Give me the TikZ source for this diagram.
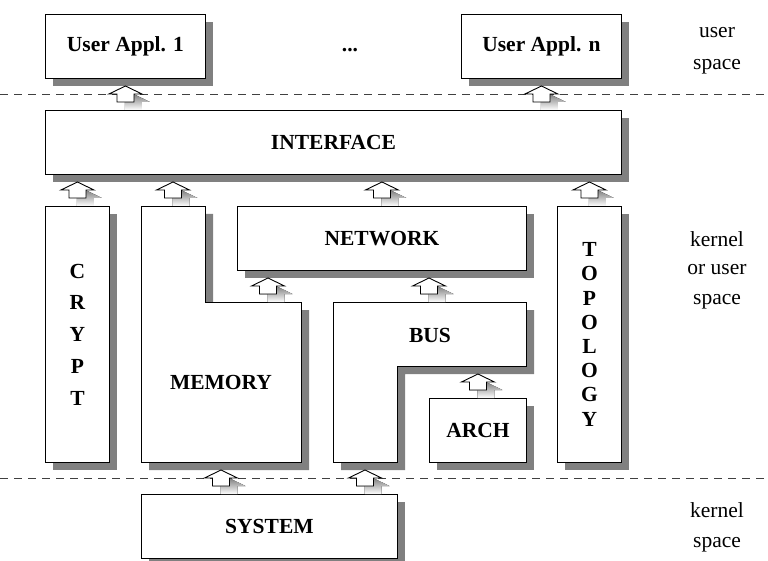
\documentclass[tikz,border=0pt]{standalone}
\usepackage{fontspec}
\setmainfont{Liberation Serif}
\usetikzlibrary{shadows}
\definecolor{shade}{gray}{0.5}
\tikzset{
  box/.style={draw=black, line width=0.9pt, fill=white, inner sep=0pt,
    general shadow={fill=shade, shadow xshift=8pt, shadow yshift=-8pt},
    font=\bfseries\fontsize{21.5}{24}\selectfont, align=center},
  poly/.style={draw=black, line width=0.9pt, fill=white},
  polyshadow/.style={fill=shade},
  lbl/.style={font=\bfseries\fontsize{21.5}{24}\selectfont, inner sep=0pt},
  side/.style={font=\fontsize{21.5}{30}\selectfont, inner sep=0pt, anchor=base},
  sepline/.style={dash pattern=on 8pt off 6pt, line width=0.8pt, draw=black!75},
  blockarrow/.pic={
    \fill[shade] (8,-16) -- (24.5,-8) -- (16.5,-8) -- (16.5,0) -- (-0.5,0) -- (-0.5,-8) -- (-8.5,-8) -- cycle;
    \draw[poly] (0,-24) -- (16.5,-16) -- (8.5,-16) -- (8.5,-8) -- (-8.5,-8) -- (-8.5,-16) -- (-16.5,-16) -- cycle;
  }
}
\begin{document}
\begin{tikzpicture}[x=1pt,y=-1pt]
\useasboundingbox (0,0) rectangle (768,561);
\fill[white] (0,0) rectangle (768,561);

% separators
\coordinate (s1l) at (0,94);  \coordinate (s1r) at (768,94);
\coordinate (s2l) at (0,478); \coordinate (s2r) at (768,478);
\draw[sepline] (s1l) -- (s1r);
\draw[sepline] (s2l) -- (s2r);

% rectangular boxes
\node[box, anchor=north west, minimum width=160pt, minimum height=64pt] (app1) at (45,14) {User Appl. 1};
\node[box, anchor=north west, minimum width=160pt, minimum height=64pt] (appn) at (461,14) {User Appl. n};
\node[lbl, anchor=base] (dots) at (350,52) {...};
\node[box, anchor=north west, minimum width=576pt, minimum height=64pt] (iface) at (45,110) {INTERFACE};
\node[box, anchor=north west, minimum width=64pt, minimum height=256pt,
      font=\bfseries\fontsize{21.5}{31.75}\selectfont] (crypt) at (45,206) {C\\R\\Y\\P\\T};
\node[box, anchor=north west, minimum width=289pt, minimum height=64pt] (network) at (237,206) {NETWORK};
\node[box, anchor=north west, minimum width=64pt, minimum height=256pt,
      font=\bfseries\fontsize{21.5}{24.2}\selectfont] (topo) at (557,206) {T\\O\\P\\O\\L\\O\\G\\Y};

% MEMORY (L-shape)
\fill[polyshadow, shift={(8,8)}] (141,206) -- (205,206) -- (205,302) -- (301,302) -- (301,462) -- (141,462) -- cycle;
\draw[poly] (141,206) -- (205,206) -- (205,302) -- (301,302) -- (301,462) -- (141,462) -- cycle;
\node[lbl] (memory) at (221,382) {MEMORY};
\coordinate (memtop) at (173,206);
\coordinate (memstep) at (268,302);
\coordinate (membot) at (221,462);

% BUS (L-shape)
\fill[polyshadow, shift={(8,8)}] (333,302) -- (526,302) -- (526,366) -- (397,366) -- (397,462) -- (333,462) -- cycle;
\draw[poly] (333,302) -- (526,302) -- (526,366) -- (397,366) -- (397,462) -- (333,462) -- cycle;
\node[lbl] (bus) at (430,335) {BUS};
\coordinate (bustop) at (429,302);
\coordinate (busstep) at (477,366);
\coordinate (busbot) at (365,462);

\node[box, anchor=north west, minimum width=97pt, minimum height=64pt] (arch) at (429,398) {ARCH};
\node[box, anchor=north west, minimum width=256pt, minimum height=64pt] (system) at (141,494) {SYSTEM};

% block arrows (placed on top edge of the lower box)
\pic at (app1.south |- iface.north) {blockarrow};
\pic at (appn.south |- iface.north) {blockarrow};
\pic at (crypt.north) {blockarrow};
\pic at (memtop) {blockarrow};
\pic at (network.north) {blockarrow};
\pic at (topo.north) {blockarrow};
\pic at (memstep) {blockarrow};
\pic at (bustop) {blockarrow};
\pic at (arch.north) {blockarrow};
\pic at (membot |- system.north) {blockarrow};
\pic at (busbot |- system.north) {blockarrow};

% side labels
\node[side] (us1) at (717,38) {user};
\node[side] (us2) at (717,70) {space};
\node[side] (ku1) at (717,247) {kernel};
\node[side] (ku2) at (717,275) {or user};
\node[side] (ku3) at (717,305) {space};
\node[side] (ks1) at (717,517) {kernel};
\node[side] (ks2) at (717,547) {space};
\end{tikzpicture}
\end{document}
